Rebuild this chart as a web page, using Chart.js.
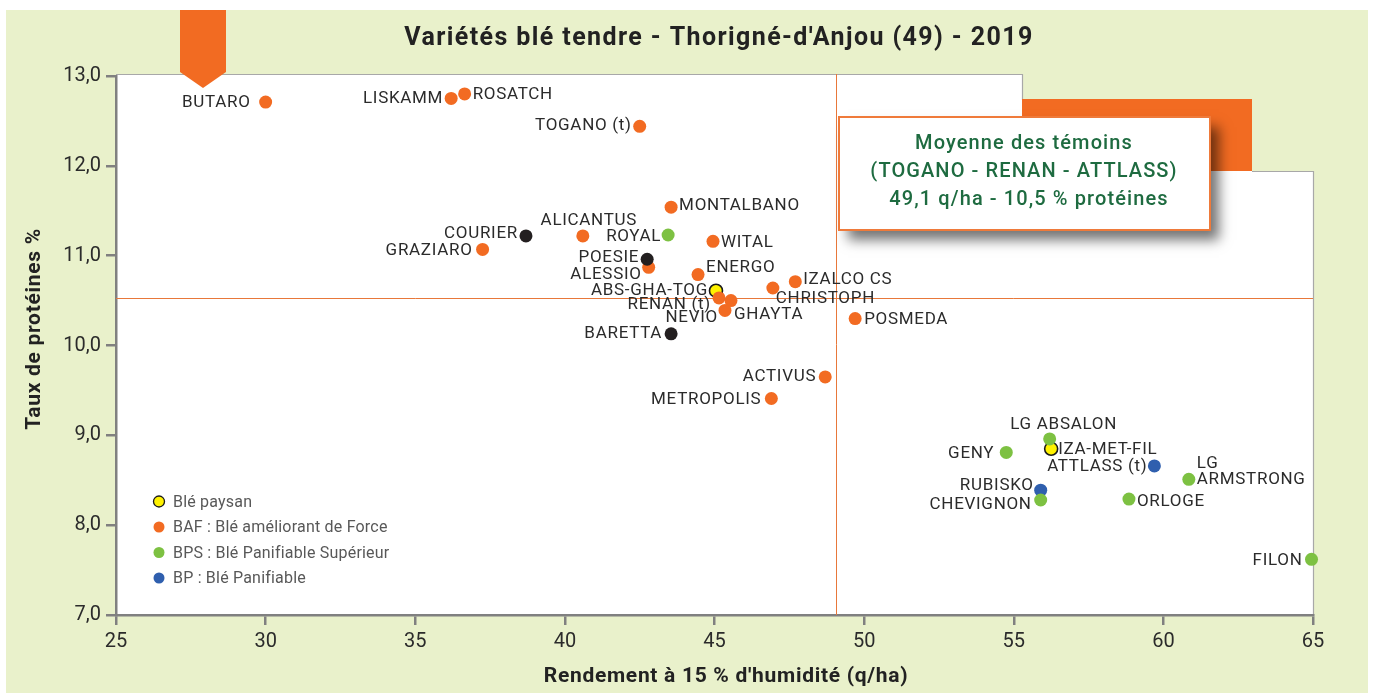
<!DOCTYPE html>
<html>
<head>
<meta charset="utf-8">
<script src="https://cdn.jsdelivr.net/npm/chart.js@4.4.1/dist/chart.umd.min.js"></script>
<style>
html,body{margin:0;padding:0;background:#fff;}
#wrap{width:1375px;height:693px;position:relative;}
</style>
</head>
<body>
<div id="wrap"><canvas id="c" width="1375" height="693"></canvas></div>
<script>
// ---------- DATA ----------
const chartTitle = "Variétés blé tendre - Thorigné-d'Anjou (49) - 2019";
const xAxisTitle = "Rendement à 15 % d'humidité (q/ha)";
const yAxisTitle = "Taux de protéines %";
const xTicks = [25, 30, 35, 40, 45, 50, 55, 60, 65];
const yTicks = [7, 8, 9, 10, 11, 12, 13];

const seriesNames = ["Blé paysan", "BAF : Blé améliorant de Force", "BPS : Blé Panifiable Supérieur", "BP : Blé Panifiable"];

const paysanNames = ["ABS-GHA-TOG", "IZA-MET-FIL"];
const paysanX = [45.05, 56.25];
const paysanY = [10.61, 8.85];

const bafNames = ["BUTARO", "LISKAMM", "ROSATCH", "TOGANO (t)", "MONTALBANO", "ALICANTUS", "WITAL", "ALESSIO", "ENERGO", "IZALCO CS", "CHRISTOPH", "RENAN (t)", "GHAYTA", "NEVIO", "POSMEDA", "GRAZIARO", "ACTIVUS", "METROPOLIS"];
const bafX = [30.0, 36.2, 36.65, 42.5, 43.55, 40.6, 44.95, 42.8, 44.45, 47.7, 46.95, 45.15, 45.55, 45.35, 49.7, 37.25, 48.7, 46.9];
const bafY = [12.71, 12.75, 12.80, 12.44, 11.54, 11.22, 11.16, 10.87, 10.79, 10.71, 10.64, 10.53, 10.50, 10.39, 10.30, 11.07, 9.65, 9.41];

const bpsNames = ["ROYAL", "LG ABSALON", "GENY", "LG ARMSTRONG", "CHEVIGNON", "ORLOGE", "FILON"];
const bpsX = [43.45, 56.2, 54.75, 60.85, 55.9, 58.85, 64.95];
const bpsY = [11.23, 8.96, 8.81, 8.51, 8.28, 8.29, 7.62];

const bpNames = ["ATTLASS (t)", "RUBISKO"];
const bpX = [59.7, 55.9];
const bpY = [8.66, 8.39];

const otherNames = ["COURIER", "POESIE", "BARETTA"];
const otherX = [38.7, 42.75, 43.55];
const otherY = [11.22, 10.96, 10.13];

const meanX = 49.07;
const meanY = 10.53;
const meanBoxLines = ["Moyenne des témoins", "(TOGANO - RENAN - ATTLASS)", "49,1 q/ha - 10,5 % protéines"];

// ---------- LAYOUT / STYLE ----------
// label placement: [textAlign, dx, dy, splitOnSpace] relative to point centre (pixels)
const labelLayout = {
  "BUTARO": ["right", -15, 1], "LISKAMM": ["right", -8, 0], "ROSATCH": ["left", 8, 1],
  "TOGANO (t)": ["right", -8, -1], "MONTALBANO": ["left", 8, -1], "ALICANTUS": ["center", 6, -15],
  "WITAL": ["left", 8, 1], "ALESSIO": ["right", -7, 7], "ENERGO": ["left", 8, -7],
  "IZALCO CS": ["left", 8, -2], "CHRISTOPH": ["left", 3, 11], "RENAN (t)": ["right", -8, 7],
  "GHAYTA": ["left", 3, 14], "NEVIO": ["right", -7, 7], "POSMEDA": ["left", 9, 1],
  "GRAZIARO": ["right", -10, 1], "ACTIVUS": ["right", -9, 0], "METROPOLIS": ["right", -10, 1],
  "COURIER": ["right", -8, -2], "POESIE": ["right", -8, -2], "BARETTA": ["right", -9, 0],
  "ROYAL": ["right", -7, 2], "LG ABSALON": ["center", 14, -14], "GENY": ["right", -12, 1],
  "LG ARMSTRONG": ["left", 8, -16, true], "CHEVIGNON": ["right", -9, 5], "ORLOGE": ["left", 8, 3],
  "FILON": ["right", -9, 1], "ATTLASS (t)": ["right", -7, 1], "RUBISKO": ["right", -7, -4],
  "ABS-GHA-TOG": ["right", -8, 0], "IZA-MET-FIL": ["left", 7, 1]
};

const C_ORANGE = "#f26b22", C_GREEN = "#7dc142", C_BLUE = "#2f5fae", C_BLACK = "#231f20", C_YELLOW = "#fff200";
const BG_GREEN = "#e9f1cb";
const FONT = "Roboto, 'Liberation Sans', sans-serif";

function pts(xs, ys, names) { return xs.map((x, i) => ({x: x, y: ys[i], name: names[i]})); }

const datasets = [
  {label: "", data: pts(otherX, otherY, otherNames), backgroundColor: C_BLACK, borderWidth: 0, pointRadius: 6.5},
  {label: seriesNames[1], data: pts(bafX, bafY, bafNames), backgroundColor: C_ORANGE, borderWidth: 0, pointRadius: 6.5},
  {label: seriesNames[2], data: pts(bpsX, bpsY, bpsNames), backgroundColor: C_GREEN, borderWidth: 0, pointRadius: 6.5},
  {label: seriesNames[3], data: pts(bpX, bpY, bpNames), backgroundColor: C_BLUE, borderWidth: 0, pointRadius: 6.5},
  {label: seriesNames[0], data: pts(paysanX, paysanY, paysanNames), backgroundColor: C_YELLOW, borderColor: "#1a1a1a", borderWidth: 1.6, pointRadius: 6.5}
].map(d => Object.assign(d, {clip: false, pointHoverRadius: d.pointRadius, pointBorderColor: d.borderColor || d.backgroundColor}));

const legendOrder = [4, 1, 2, 3];

function setLS(ctx, v) { try { ctx.letterSpacing = v; } catch (e) {} }

const decorPlugin = {
  id: "decor",
  beforeDraw(chart) {
    const ctx = chart.ctx, a = chart.chartArea;
    ctx.save();
    ctx.fillStyle = "#fff"; ctx.fillRect(0, 0, chart.width, chart.height);
    ctx.fillStyle = BG_GREEN; ctx.fillRect(6, 10, 1362, 683);
    // white plot region with notch at top right
    const notchX = 1022, notchY = 171, topY = a.top - 2;
    ctx.fillStyle = "#fff";
    ctx.beginPath();
    ctx.moveTo(a.left, topY); ctx.lineTo(notchX, topY); ctx.lineTo(notchX, notchY);
    ctx.lineTo(a.right, notchY); ctx.lineTo(a.right, a.bottom); ctx.lineTo(a.left, a.bottom); ctx.closePath();
    ctx.fill();
    ctx.strokeStyle = "#a8a8a8"; ctx.lineWidth = 1.2;
    ctx.beginPath();
    ctx.moveTo(a.left, topY + 0.5); ctx.lineTo(notchX + 0.5, topY + 0.5); ctx.lineTo(notchX + 0.5, 100);
    ctx.moveTo(1252, notchY + 0.5); ctx.lineTo(a.right + 0.5, notchY + 0.5); ctx.lineTo(a.right + 0.5, a.bottom);
    ctx.stroke();
    // orange block top right
    ctx.fillStyle = C_ORANGE; ctx.fillRect(notchX, 99, 1252 - notchX, notchY - 99);
    // orange tab top left
    ctx.beginPath();
    ctx.moveTo(180, 10); ctx.lineTo(226, 10); ctx.lineTo(226, 72); ctx.lineTo(203, 88); ctx.lineTo(180, 72); ctx.closePath();
    ctx.fill();
    // chart title
    ctx.fillStyle = "#222"; ctx.font = "bold 25px " + FONT; ctx.textAlign = "center"; ctx.textBaseline = "middle";
    setLS(ctx, "1.4px");
    ctx.fillText(chartTitle, 719, 39);
    // axis titles
    ctx.font = "bold 21px " + FONT; setLS(ctx, "0.7px");
    ctx.fillText(xAxisTitle, 726, 677);
    ctx.translate(35, 329); ctx.rotate(-Math.PI / 2);
    ctx.fillText(yAxisTitle, 0, 0);
    ctx.restore();
  },
  beforeDatasetsDraw(chart) {
    const ctx = chart.ctx, a = chart.chartArea, xs = chart.scales.x, ys = chart.scales.y;
    const mx = Math.round(xs.getPixelForValue(meanX)) + 0.5, my = Math.round(ys.getPixelForValue(meanY)) + 0.5;
    ctx.save();
    ctx.strokeStyle = "#e8783a"; ctx.lineWidth = 1;
    ctx.beginPath();
    ctx.moveTo(mx, a.top - 2); ctx.lineTo(mx, a.bottom);
    ctx.moveTo(a.left, my); ctx.lineTo(a.right, my);
    ctx.stroke();
    ctx.restore();
  },
  afterDatasetsDraw(chart) {
    const ctx = chart.ctx;
    ctx.save();
    ctx.fillStyle = "#2b2b2b"; ctx.font = "17px " + FONT; ctx.textBaseline = "middle";
    setLS(ctx, "0.7px");
    chart.data.datasets.forEach((ds, di) => {
      const meta = chart.getDatasetMeta(di);
      meta.data.forEach((el, i) => {
        const name = ds.data[i].name, L = labelLayout[name] || ["left", 8, 0];
        ctx.textAlign = L[0];
        if (L[3]) {
          const parts = name.split(" ");
          ctx.fillText(parts[0], el.x + L[1], el.y + L[2]);
          ctx.fillText(parts.slice(1).join(" "), el.x + L[1], el.y);
        } else {
          ctx.fillText(name, el.x + L[1], el.y + L[2]);
        }
      });
    });
    ctx.restore();
  },
  afterDraw(chart) {
    const ctx = chart.ctx;
    ctx.save();
    // legend
    ctx.font = "16px " + FONT; ctx.textBaseline = "middle"; ctx.textAlign = "left";
    setLS(ctx, "0.2px");
    legendOrder.forEach((di, k) => {
      const ds = chart.data.datasets[di], y = 501.5 + k * 25.5;
      ctx.beginPath(); ctx.arc(159, y, 5.5, 0, Math.PI * 2);
      ctx.fillStyle = ds.backgroundColor; ctx.fill();
      if (ds.borderWidth) { ctx.lineWidth = 1.3; ctx.strokeStyle = ds.borderColor; ctx.stroke(); }
      ctx.fillStyle = "#585858"; ctx.fillText(ds.label, 173, y + 1);
    });
    // mean box
    const bx = 839, by = 117, bw = 371, bh = 113;
    ctx.save();
    ctx.shadowColor = "rgba(0,0,0,0.55)"; ctx.shadowBlur = 12; ctx.shadowOffsetX = 9; ctx.shadowOffsetY = 10;
    ctx.fillStyle = "#fff"; ctx.fillRect(bx, by, bw, bh);
    ctx.restore();
    ctx.strokeStyle = "#ef7a3a"; ctx.lineWidth = 2; ctx.strokeRect(bx, by, bw, bh);
    ctx.fillStyle = "#1e6b40"; ctx.font = "500 20px " + FONT; ctx.textAlign = "center";
    setLS(ctx, "1.1px");
    ctx.fillText(meanBoxLines[0], 1024, 144);
    ctx.fillText(meanBoxLines[1], 1024, 172);
    ctx.fillText(meanBoxLines[2], 1029, 200);
    ctx.restore();
  }
};

new Chart(document.getElementById("c"), {
  type: "scatter",
  data: {datasets: datasets},
  options: {
    responsive: false, animation: false, events: [],
    layout: {padding: {top: 76, right: 62, left: 0, bottom: 0}},
    plugins: {legend: {display: false}, tooltip: {enabled: false}, title: {display: false}},
    scales: {
      x: {
        type: "linear", min: xTicks[0], max: xTicks[xTicks.length - 1],
        afterBuildTicks: s => { s.ticks = xTicks.map(v => ({value: v})); },
        afterFit: s => { s.height = 78; },
        ticks: {color: "#2b2b2b", font: {size: 20, family: FONT}, padding: 5, callback: v => String(v)},
        grid: {drawOnChartArea: false, drawTicks: true, tickLength: 10, color: "#808080", lineWidth: 2.5},
        border: {display: true, color: "#808080", width: 2.5},
        title: {display: false}
      },
      y: {
        type: "linear", min: yTicks[0], max: yTicks[yTicks.length - 1],
        afterBuildTicks: s => { s.ticks = yTicks.map(v => ({value: v})); },
        afterFit: s => { s.width = 116; },
        ticks: {color: "#2b2b2b", font: {size: 20, family: FONT}, padding: 5, callback: v => v.toFixed(1).replace(".", ",")},
        grid: {drawOnChartArea: false, drawTicks: true, tickLength: 10, color: "#808080", lineWidth: 2.5},
        border: {display: true, color: "#808080", width: 2.5},
        title: {display: false}
      }
    }
  },
  plugins: [decorPlugin]
});
</script>
</body>
</html>
